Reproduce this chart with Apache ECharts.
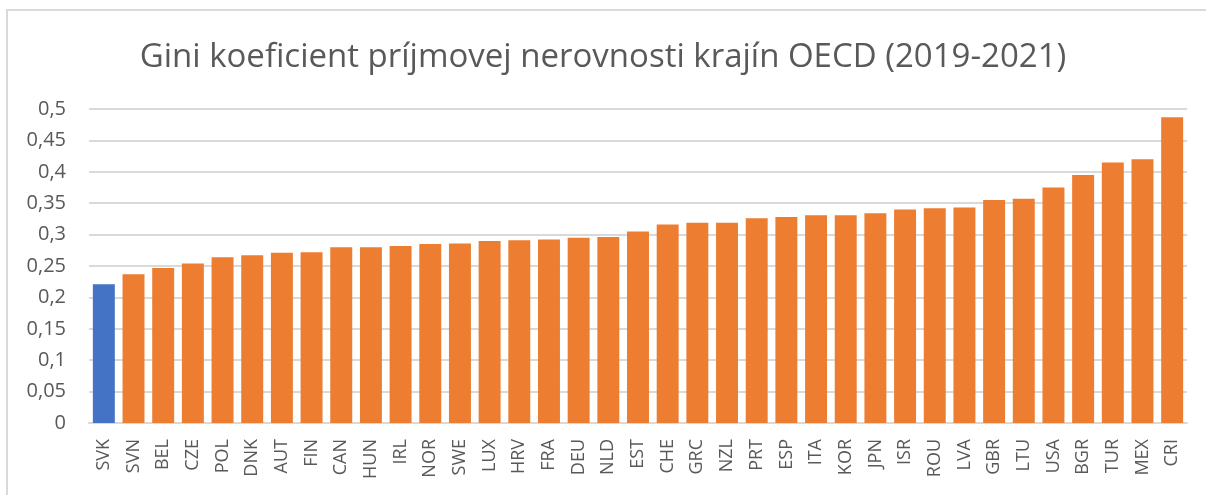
<!DOCTYPE html>
<html>
<head>
<meta charset="utf-8">
<script src="https://cdn.jsdelivr.net/npm/echarts@6/dist/echarts.min.js"></script>
<style>
html,body{margin:0;padding:0;background:#fff;}
#frame{position:absolute;left:6px;top:9px;width:1206px;height:495px;border-left:2px solid #D9D9D9;border-top:2px solid #D9D9D9;}
#chart{position:absolute;left:0;top:0;width:1206px;height:495px;}
</style>
</head>
<body>
<div id="frame"></div>
<div id="chart"></div>
<script>
const categories = ['SVK','SVN','BEL','CZE','POL','DNK','AUT','FIN','CAN','HUN','IRL','NOR','SWE','LUX','HRV','FRA','DEU','NLD','EST','CHE','GRC','NZL','PRT','ESP','ITA','KOR','JPN','ISR','ROU','LVA','GBR','LTU','USA','BGR','TUR','MEX','CRI'];
const giniValues = [0.221,0.237,0.247,0.254,0.264,0.267,0.271,0.272,0.280,0.280,0.282,0.285,0.286,0.290,0.291,0.292,0.295,0.296,0.305,0.316,0.319,0.319,0.326,0.328,0.331,0.331,0.334,0.340,0.342,0.343,0.355,0.357,0.375,0.395,0.415,0.420,0.487];
const highlightCountry = 'SVK';
const yTicks = {min: 0, max: 0.5, interval: 0.05};
const titleText = 'Gini koeficient príjmovej nerovnosti krajín OECD (2019-2021)';

const chart = echarts.init(document.getElementById('chart'), null, {renderer: 'canvas'});
const font = '"Open Sans", "Noto Sans", sans-serif';
chart.setOption({
  animation: false,
  backgroundColor: 'transparent',
  title: {
    text: titleText,
    left: 'center',
    top: 36,
    textStyle: {fontFamily: font, fontSize: 33, fontWeight: 'normal', color: '#595959'}
  },
  grid: {left: 89, right: 19, top: 109, bottom: 72},
  xAxis: {
    type: 'category',
    data: categories,
    axisLine: {lineStyle: {color: '#D9D9D9', width: 2}},
    axisTick: {show: false},
    axisLabel: {rotate: 90, margin: 16, color: '#595959', fontFamily: font, fontSize: 18, interval: 0}
  },
  yAxis: {
    type: 'value',
    min: yTicks.min, max: yTicks.max, interval: yTicks.interval,
    axisLine: {show: false},
    axisTick: {show: false},
    splitLine: {lineStyle: {color: '#D9D9D9', width: 2}},
    axisLabel: {
      margin: 23, color: '#595959', fontFamily: font, fontSize: 20,
      formatter: v => String(+v.toFixed(2)).replace('.', ',')
    }
  },
  series: [{
    type: 'bar',
    data: giniValues.map((v, i) => ({
      value: v,
      itemStyle: {color: categories[i] === highlightCountry ? '#4472C4' : '#ED7D31'}
    })),
    barCategoryGap: '26%'
  }]
});
</script>
</body>
</html>
